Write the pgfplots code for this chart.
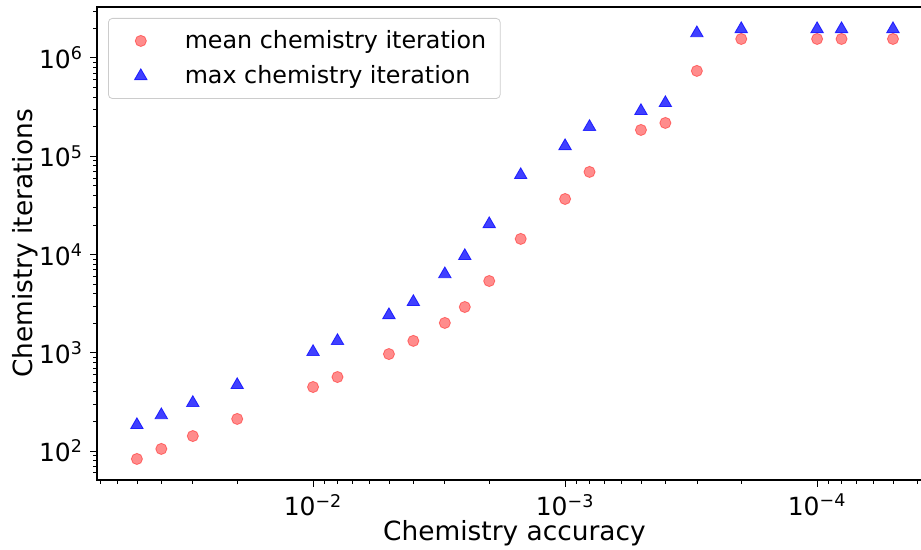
\documentclass[border=0pt]{standalone}
\usepackage{fontspec}
\setmainfont{DejaVu Sans}
\usepackage{pgfplots}
\pgfplotsset{compat=1.18}
\pgfplotsset{mylegend/.style={legend image code/.code={\path (0pt,0pt) (30.8pt,0pt); \draw[##1] plot coordinates {(11pt,0pt)};}}}
\begin{document}
\begin{tikzpicture}
\useasboundingbox (-48.5pt,-35pt) rectangle (412pt,240pt);
\begin{axis}[
  at={(0,0)}, anchor=south west,
  scale only axis,
  width=417.5pt, height=236.5pt,
  xmode=log, ymode=log,
  x dir=reverse,
  xmin=3.5e-5, xmax=0.072,
  ymin=50.7, ymax=3.3e6,
  xtick={1e-2,1e-3,1e-4},
  xticklabels={10\textsuperscript{−2},10\textsuperscript{−3},10\textsuperscript{−4}},
  minor xtick={0.02,0.03,0.04,0.05,0.06,0.07,0.002,0.003,0.004,0.005,0.006,0.007,0.008,0.009,0.0002,0.0003,0.0004,0.0005,0.0006,0.0007,0.0008,0.0009,0.00004,0.00005,0.00006,0.00007,0.00008,0.00009},
  ytick={1e2,1e3,1e4,1e5,1e6},
  yticklabels={10\textsuperscript{2},10\textsuperscript{3},10\textsuperscript{4},10\textsuperscript{5},10\textsuperscript{6}},
  minor ytick={60,70,80,90,200,300,400,500,600,700,800,900,2000,3000,4000,5000,6000,7000,8000,9000,20000,30000,40000,50000,60000,70000,80000,90000,200000,300000,400000,500000,600000,700000,800000,900000,2000000,3000000},
  tick pos=left,
  tick align=outside,
  major tick length=3.5pt,
  minor tick length=2pt,
  tick style={black, line width=0.45pt},
  minor tick style={black, line width=0.35pt},
  ticklabel style={font=\fontsize{12.5}{15}\selectfont},
  xlabel={Chemistry accuracy},
  ylabel={Chemistry iterations},
  label style={font=\fontsize{13.2}{16}\selectfont},
  xlabel style={yshift=4.5pt},
  ylabel style={yshift=-6.5pt},
  axis line style={line width=0.6pt},
  legend style={at={(0,1)}, anchor=north west, xshift=5.5pt, yshift=-5.5pt,
    draw=black!20, rounded corners=2pt, font=\fontsize{11.9}{14}\selectfont,
    row sep=3pt, inner xsep=5pt, inner ysep=4pt},
  legend cell align=left,
]
\addplot[only marks, mylegend, mark=*, mark size=2.8pt, draw=red, fill=red, draw opacity=0.45, fill opacity=0.45]
coordinates {
(0.05,83) (0.04,105) (0.03,142) (0.02,212) (0.01,448) (0.008,566)
(0.005,970) (0.004,1320) (0.003,2010) (0.0025,2920) (0.002,5370)
(0.0015,14400) (0.001,36700) (0.0008,69200) (0.0005,185000) (0.0004,218000)
(0.0003,738000) (0.0002,1.56e6) (0.0001,1.56e6) (0.00008,1.56e6) (0.00005,1.56e6)
};
\addlegendentry{mean chemistry iteration}
\addplot[only marks, mylegend, mark=triangle*, mark size=3.6pt, draw=blue, fill=blue, draw opacity=0.75, fill opacity=0.75]
coordinates {
(0.05,184) (0.04,232) (0.03,309) (0.02,470) (0.01,1020) (0.008,1320)
(0.005,2420) (0.004,3290) (0.003,6310) (0.0025,9660) (0.002,20400)
(0.0015,64400) (0.001,127000) (0.0008,199000) (0.0005,289000) (0.0004,348000)
(0.0003,1.79e6) (0.0002,1.97e6) (0.0001,1.97e6) (0.00008,1.97e6) (0.00005,1.97e6)
};
\addlegendentry{max chemistry iteration}
\end{axis}
\end{tikzpicture}
\end{document}
